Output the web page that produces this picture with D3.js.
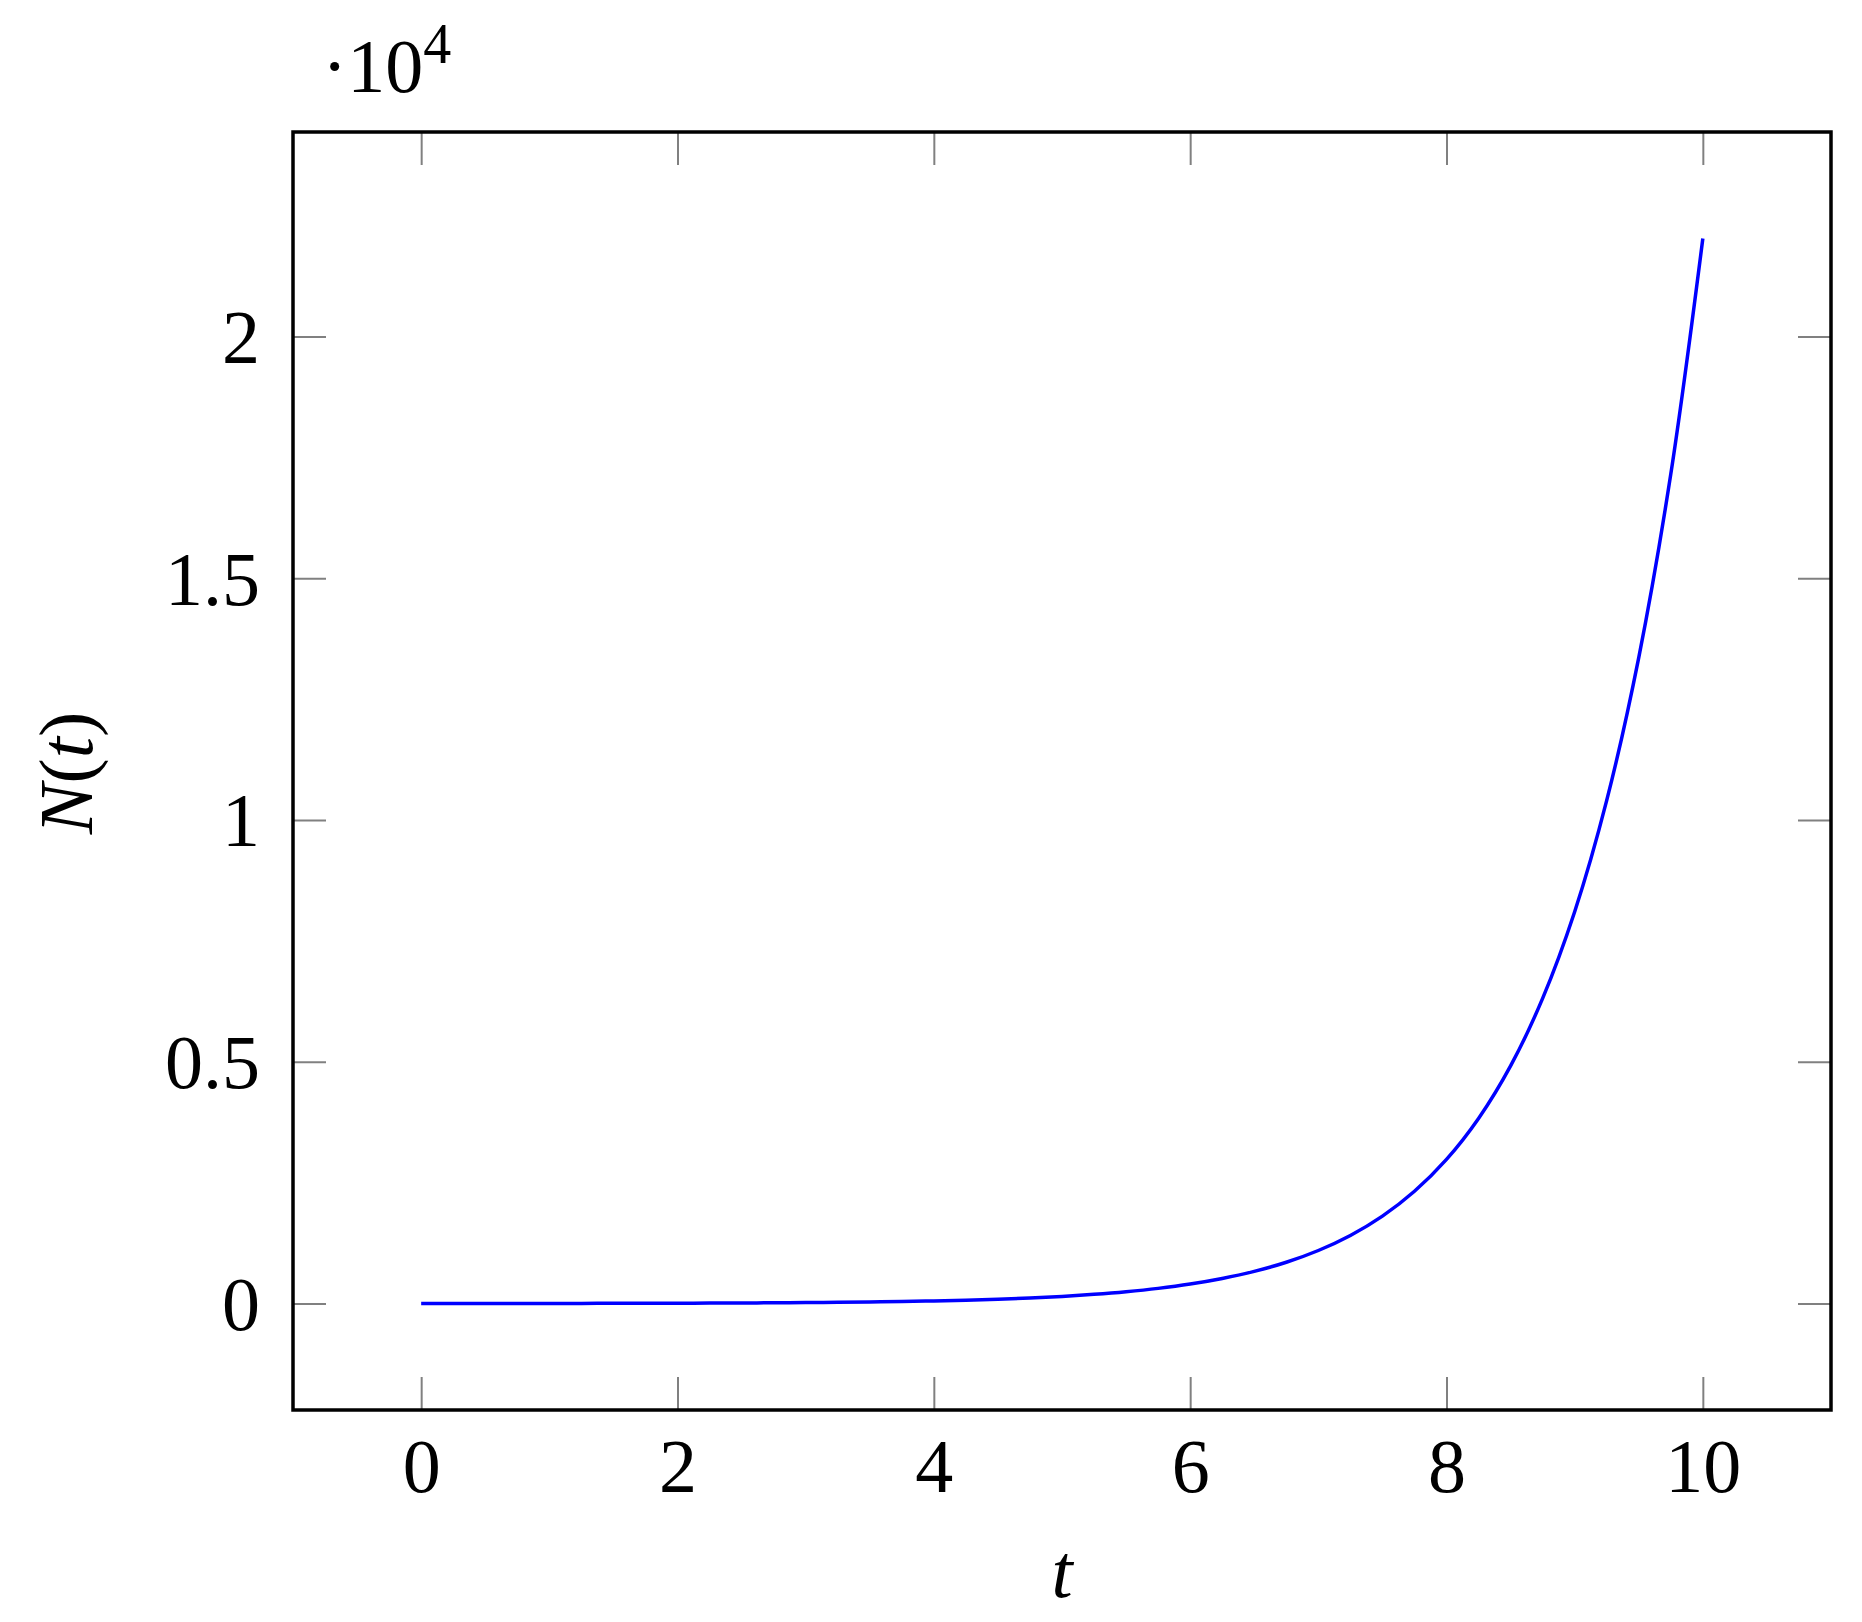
<!DOCTYPE html>
<html>
<head>
<meta charset="utf-8">
<script src="https://cdn.jsdelivr.net/npm/d3@7"></script>
<style>
  html, body { margin: 0; padding: 0; background: #fff; }
  svg text { font-family: "Liberation Serif", "DejaVu Serif", serif; fill: #000; }
</style>
</head>
<body>
<svg id="chart" width="1862" height="1622"></svg>
<script>
"use strict";

// values
var tValues = [0, 0.25, 0.5, 0.75, 1, 1.25, 1.5, 1.75, 2, 2.25, 2.5, 2.75, 3, 3.25, 3.5, 3.75,
    4, 4.25, 4.5, 4.75, 5, 5.25, 5.5, 5.75, 6, 6.25, 6.5, 6.75, 7, 7.25, 7.5, 7.75,
    8, 8.25, 8.5, 8.75, 9, 9.25, 9.5, 9.75, 10];
var nValues = [1, 1.3, 1.6, 2.1, 2.7, 3.5, 4.5, 5.8, 7.4, 9.5, 12, 16, 20, 26, 33, 43,
    55, 70, 90, 116, 148, 191, 245, 314, 403, 518, 665, 854, 1097, 1408, 1808, 2322,
    2981, 3828, 4915, 6311, 8103, 10405, 13360, 17154, 22026];

var xTicks = [0, 2, 4, 6, 8, 10];
var yTicks = [0, 5000, 10000, 15000, 20000];
var yTickLabels = ["0", "0.5", "1", "1.5", "2"];

var xDomain = [-1, 11];
var yDomain = [-2201.5, 24228.6];

const margin = { top: 132, right: 31, bottom: 212, left: 293 },
    width = 1862 - margin.left - margin.right,
    height = 1622 - margin.top - margin.bottom;

var svg = d3.select("#chart")
    .append("g")
    .attr("transform", "translate(" + margin.left + "," + margin.top + ")");

var x = d3.scaleLinear().domain(xDomain).range([0, width]);
var y = d3.scaleLinear().domain(yDomain).range([height, 0]);

const TICK = 33;

// bottom axis with labels, inward ticks
var gx = svg.append("g")
    .attr("transform", "translate(0," + height + ")")
    .call(d3.axisBottom(x).tickValues(xTicks).tickSize(-TICK).tickSizeOuter(0).tickPadding(28));
var gxt = svg.append("g")
    .call(d3.axisTop(x).tickValues(xTicks).tickSize(-TICK).tickSizeOuter(0).tickFormat(""));

var gy = svg.append("g")
    .call(d3.axisLeft(y).tickValues(yTicks).tickSize(-TICK).tickSizeOuter(0).tickPadding(33)
        .tickFormat((d, i) => yTickLabels[i]));
var gyr = svg.append("g")
    .attr("transform", "translate(" + width + ",0)")
    .call(d3.axisRight(y).tickValues(yTicks).tickSize(-TICK).tickSizeOuter(0).tickFormat(""));

[gx, gxt, gy, gyr].forEach(g => {
    g.select(".domain").remove();
    g.selectAll(".tick line").attr("stroke", "#808080").attr("stroke-width", 2);
    g.selectAll(".tick text")
        .attr("fill", "#000")
        .style("font-family", '"Liberation Serif", serif')
        .style("font-size", "76px");
});
gy.selectAll(".tick text").attr("dy", "0.34em");

// the curve
var line = d3.line()
    .x((d, i) => x(tValues[i]))
    .y(d => y(d))
    .curve(d3.curveCatmullRom);

svg.append("path")
    .datum(nValues)
    .attr("fill", "none")
    .attr("stroke", "#0000ff")
    .attr("stroke-width", 3.5)
    .attr("d", line);

// frame
svg.append("rect")
    .attr("x", 0)
    .attr("y", 0)
    .attr("width", width)
    .attr("height", height)
    .attr("fill", "none")
    .attr("stroke", "#000")
    .attr("stroke-width", 3.5);

// axis labels
svg.append("text")
    .attr("x", x(5))
    .attr("y", 1597 - margin.top)
    .attr("text-anchor", "middle")
    .style("font-size", "76px")
    .style("font-style", "italic")
    .text("t");

svg.append("text")
    .attr("transform", "translate(" + (92 - margin.left) + "," + (773 - margin.top) + ") rotate(-90)")
    .attr("text-anchor", "middle")
    .style("font-size", "76px")
    .html('<tspan font-style="italic">N</tspan>(<tspan font-style="italic">t</tspan>)');

// scale factor label
var sf = svg.append("text")
    .attr("x", 322 - margin.left)
    .attr("y", 92 - margin.top)
    .style("font-size", "76px");
sf.append("tspan").text("\u00b710");
sf.append("tspan").attr("dy", -29).style("font-size", "56px").text("4");
</script>
</body>
</html>
